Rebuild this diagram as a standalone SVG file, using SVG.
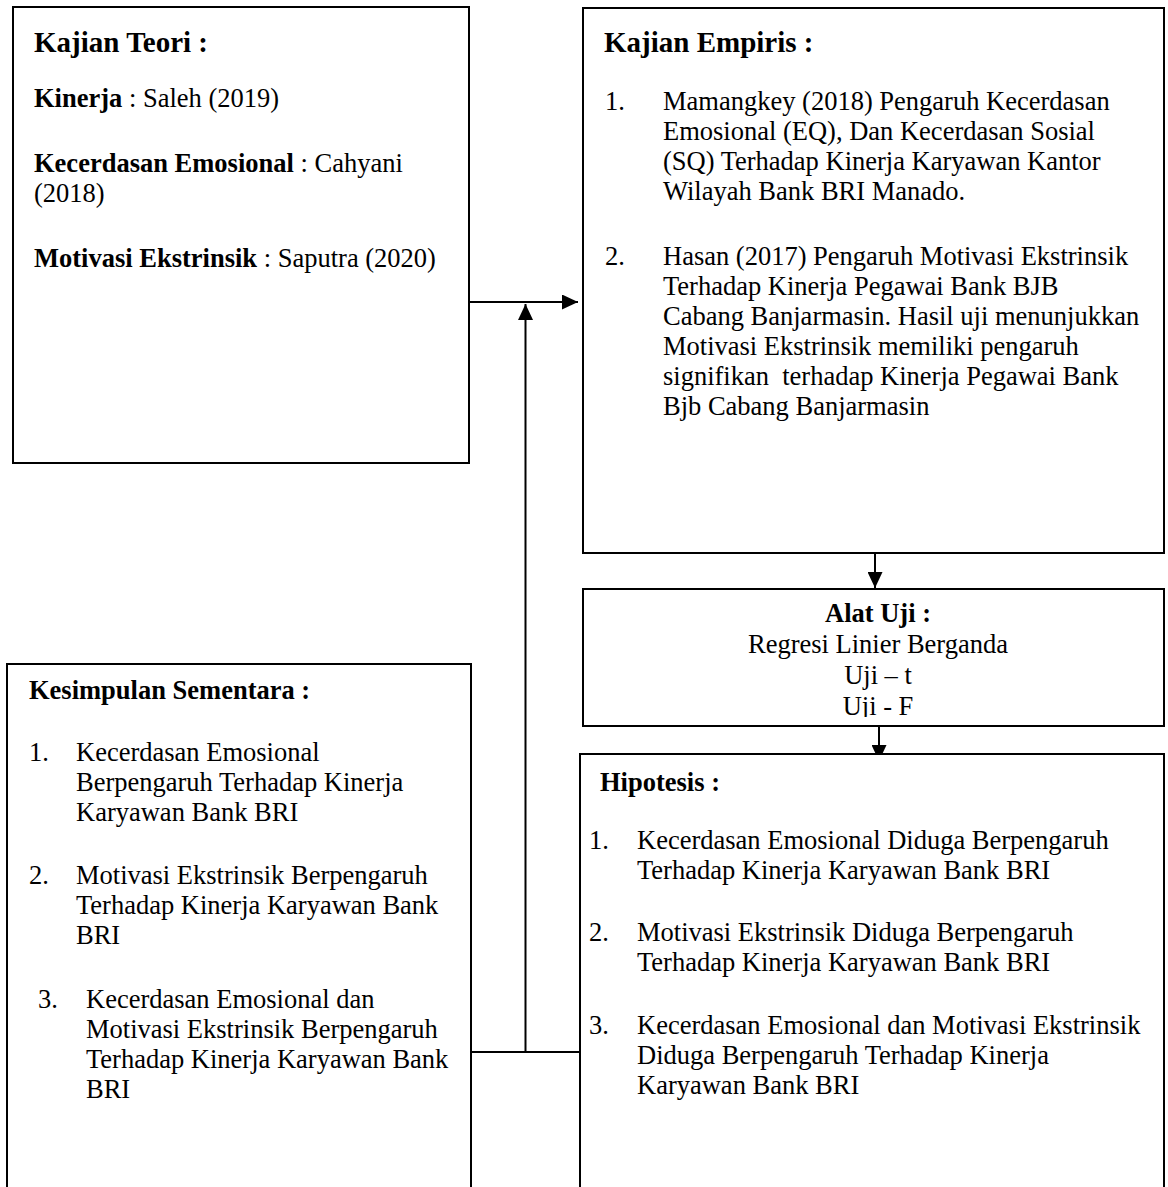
<svg xmlns="http://www.w3.org/2000/svg" width="1168" height="1187" viewBox="0 0 1168 1187">
  <style>
    .box { fill: #ffffff; stroke: #000000; stroke-width: 2; }
    .conn { fill: none; stroke: #000000; stroke-width: 2; }
    text { font-family: "Liberation Serif", "Times New Roman", serif; font-size: 26.5px; fill: #000000; }
    .hd { font-size: 29px; font-weight: bold; }
    .b { font-weight: bold; }
    .c { text-anchor: middle; }
  </style>
  <defs>
    <marker id="arrow" markerUnits="userSpaceOnUse" markerWidth="16" markerHeight="15" refX="16" refY="7.5" orient="auto">
      <path d="M0,0 L16,7.5 L0,15 Z" fill="#000000"/>
    </marker>
    <clipPath id="clipAlat">
      <rect x="583" y="589" width="581" height="128"/>
    </clipPath>
  </defs>

  <g id="connectors">
    <line class="conn" x1="469" y1="302" x2="578" y2="302" marker-end="url(#arrow)"/>
    <line class="conn" x1="471" y1="1052" x2="580" y2="1052"/>
    <line class="conn" x1="525.5" y1="1052" x2="525.5" y2="304" marker-end="url(#arrow)"/>
    <line class="conn" x1="875" y1="553" x2="875" y2="588" marker-end="url(#arrow)"/>
    <line class="conn" x1="879" y1="726" x2="879" y2="761" marker-end="url(#arrow)"/>
  </g>

  <g id="kajian-teori">
    <rect class="box" x="13" y="7" width="456" height="456"/>
    <text class="hd" x="34" y="52">Kajian Teori :</text>
    <text x="34" y="107"><tspan class="b">Kinerja</tspan> : Saleh (2019)</text>
    <text x="34" y="172"><tspan class="b">Kecerdasan Emosional</tspan> : Cahyani</text>
    <text x="34" y="202">(2018)</text>
    <text x="34" y="267"><tspan class="b">Motivasi Ekstrinsik</tspan> : Saputra (2020)</text>
  </g>

  <g id="kajian-empiris">
    <rect class="box" x="583" y="8" width="581" height="545"/>
    <text class="hd" x="604" y="52">Kajian Empiris :</text>
    <text x="605" y="110">1.</text>
    <text x="663" y="110">Mamangkey (2018) Pengaruh Kecerdasan</text>
    <text x="663" y="140">Emosional (EQ), Dan Kecerdasan Sosial</text>
    <text x="663" y="170">(SQ) Terhadap Kinerja Karyawan Kantor</text>
    <text x="663" y="200">Wilayah Bank BRI Manado.</text>
    <text x="605" y="265">2.</text>
    <text x="663" y="265">Hasan (2017) Pengaruh Motivasi Ekstrinsik</text>
    <text x="663" y="295">Terhadap Kinerja Pegawai Bank BJB</text>
    <text x="663" y="325">Cabang Banjarmasin. Hasil uji menunjukkan</text>
    <text x="663" y="355">Motivasi Ekstrinsik memiliki pengaruh</text>
    <text x="663" y="385" xml:space="preserve">signifikan  terhadap Kinerja Pegawai Bank</text>
    <text x="663" y="415">Bjb Cabang Banjarmasin</text>
  </g>

  <g id="alat-uji">
    <rect class="box" x="583" y="589" width="581" height="137"/>
    <g clip-path="url(#clipAlat)">
      <text class="b c" x="878" y="622">Alat Uji :</text>
      <text class="c" x="878" y="653">Regresi Linier Berganda</text>
      <text class="c" x="878" y="684">Uji – t</text>
      <text class="c" x="878" y="715">Uji - F</text>
    </g>
  </g>

  <g id="kesimpulan-sementara">
    <rect class="box" x="7" y="664" width="464" height="600"/>
    <text class="b" x="29" y="699">Kesimpulan Sementara :</text>
    <text x="29" y="761">1.</text>
    <text x="76" y="761">Kecerdasan Emosional</text>
    <text x="76" y="791">Berpengaruh Terhadap Kinerja</text>
    <text x="76" y="821">Karyawan Bank BRI</text>
    <text x="29" y="884">2.</text>
    <text x="76" y="884">Motivasi Ekstrinsik Berpengaruh</text>
    <text x="76" y="914">Terhadap Kinerja Karyawan Bank</text>
    <text x="76" y="944">BRI</text>
    <text x="38" y="1008">3.</text>
    <text x="86" y="1008">Kecerdasan Emosional dan</text>
    <text x="86" y="1038">Motivasi Ekstrinsik Berpengaruh</text>
    <text x="86" y="1068">Terhadap Kinerja Karyawan Bank</text>
    <text x="86" y="1098">BRI</text>
  </g>

  <g id="hipotesis">
    <rect class="box" x="580" y="754" width="584" height="600"/>
    <text class="b" x="600" y="791">Hipotesis :</text>
    <text x="589" y="849">1.</text>
    <text x="637" y="849">Kecerdasan Emosional Diduga Berpengaruh</text>
    <text x="637" y="879">Terhadap Kinerja Karyawan Bank BRI</text>
    <text x="589" y="941">2.</text>
    <text x="637" y="941">Motivasi Ekstrinsik Diduga Berpengaruh</text>
    <text x="637" y="971">Terhadap Kinerja Karyawan Bank BRI</text>
    <text x="589" y="1034">3.</text>
    <text x="637" y="1034">Kecerdasan Emosional dan Motivasi Ekstrinsik</text>
    <text x="637" y="1064">Diduga Berpengaruh Terhadap Kinerja</text>
    <text x="637" y="1094">Karyawan Bank BRI</text>
  </g>
</svg>
